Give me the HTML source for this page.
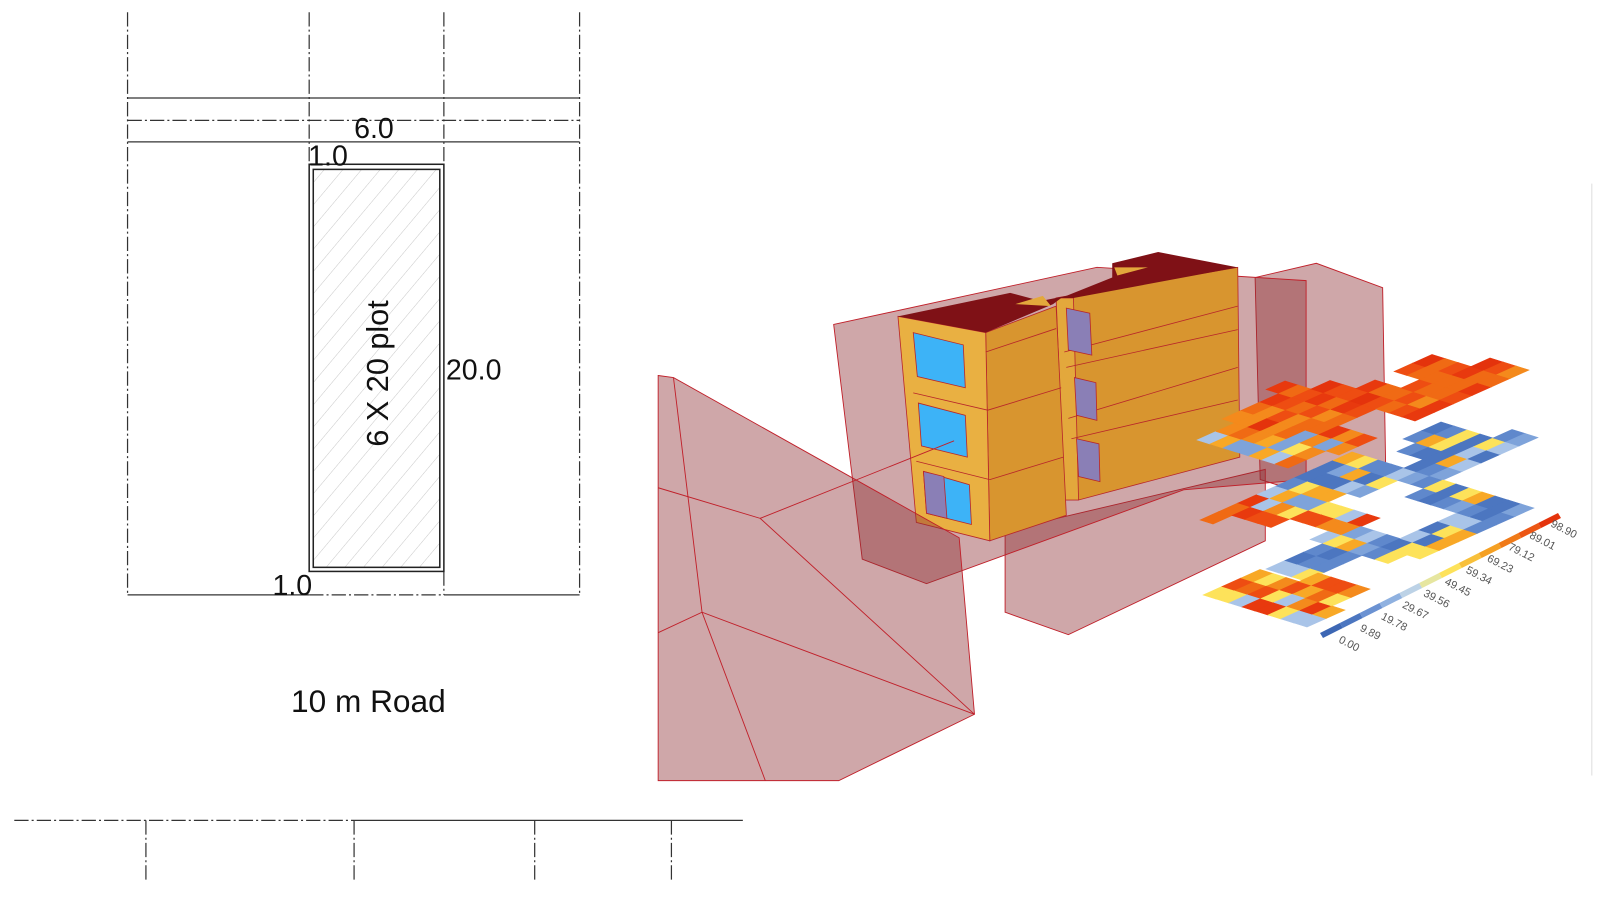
<!DOCTYPE html>
<html><head><meta charset="utf-8"><style>
html,body{margin:0;padding:0;background:#fff;}
svg{display:block;}
text{font-family:"Liberation Sans",Arial,sans-serif;}
</style></head><body>
<svg id="s" width="1600" height="901" viewBox="0 0 1600 901" xmlns="http://www.w3.org/2000/svg">
<defs>
<pattern id="hatch" width="14" height="14" patternUnits="userSpaceOnUse" patternTransform="rotate(40)">
<line x1="0" y1="0" x2="0" y2="14" stroke="#c8c8c8" stroke-width="1"/>
</pattern>
</defs>
<rect width="1600" height="901" fill="#fff"/>
<g transform="scale(1.0204)">
<g stroke="#333" stroke-width="1.2" fill="none">
<g stroke-dasharray="14,3,2,3">
<line x1="125" y1="12" x2="125" y2="583"/>
<line x1="303" y1="12" x2="303" y2="161"/>
<line x1="435" y1="12" x2="435" y2="161"/>
<line x1="568" y1="12" x2="568" y2="583"/>
<line x1="125" y1="118" x2="568" y2="118"/>
<line x1="303" y1="583" x2="435" y2="583"/>
<line x1="435" y1="560" x2="435" y2="583"/>
</g>
<line x1="125" y1="96" x2="568" y2="96"/>
<line x1="125" y1="139" x2="568" y2="139"/>
<line x1="125" y1="583" x2="303" y2="583"/>
<line x1="435" y1="583" x2="568" y2="583"/>
<rect x="303" y="161" width="132" height="399" stroke="#222" stroke-width="1.5"/>
<rect x="307" y="166" width="124" height="390" fill="url(#hatch)" stroke="#222" stroke-width="1.5"/>
</g>
<g fill="#111">
<text x="347" y="135" font-size="28">6.0</text>
<text x="302" y="162" font-size="28">1.0</text>
<text x="437" y="372" font-size="28">20.0</text>
<text x="267" y="583" font-size="28">1.0</text>
<text x="0" y="0" font-size="30" transform="translate(380,366) rotate(-90)" text-anchor="middle">6 X 20 plot</text>
<text x="361" y="698" font-size="31" text-anchor="middle">10 m Road</text>
</g>
<g stroke="#333" stroke-width="1.2" fill="none">
<line x1="14" y1="804" x2="347" y2="804" stroke-dasharray="14,3,2,3"/>
<line x1="347" y1="804" x2="728" y2="804"/>
<g stroke-dasharray="14,3,2,3">
<line x1="143" y1="804" x2="143" y2="865"/>
<line x1="347" y1="804" x2="347" y2="865"/>
<line x1="524" y1="804" x2="524" y2="865"/>
<line x1="658" y1="804" x2="658" y2="865"/>
</g>
</g>
<line x1="1560" y1="180" x2="1560" y2="760" stroke="#ddd" stroke-width="1"/>
<g fill="rgba(140,45,50,0.42)" stroke="#c0202a" stroke-width="0.9">
<polygon points="1230,272 1290,258 1355,282 1358,460 1300,490 1235,470"/>
<polygon points="985,600 1047,622 1240,530 1240,460 985,520"/>
<polygon points="817,318 1075,262 1280,275 1280,470 1160,480 908,572 845,548"/>
</g>
<g stroke="#b8262a" stroke-width="0.8">
<polygon points="1035,292 1213,262 1215,448 1057,490 1043,490" fill="#d8952f"/>
<polygon points="1035,292 1052,292 1057,490 1043,490" fill="#e3a83c"/>
<polygon points="966,326 1035,300 1045,505 970,530" fill="#d8952f"/>
<polygon points="880,310 966,326 970,530 898,512" fill="#e9b042"/>
<polygon points="880,310 990,287 1020,295 1045,290 1090,272 1090,258 1135,247 1213,262 1052,292 1040,292 1032,298 966,326" fill="#7f1116" stroke="none"/>
<polygon points="995,298 1022,290 1030,300" fill="#e3a83c" stroke="none"/>
<polygon points="1092,262 1125,262 1095,270" fill="#e3a83c" stroke="none"/>
<g fill="none">
<line x1="1043" y1="345" x2="1213" y2="300"/><line x1="1045" y1="360" x2="1213" y2="323"/>
<line x1="1047" y1="410" x2="1213" y2="360"/><line x1="1050" y1="430" x2="1213" y2="392"/>
<line x1="895" y1="385" x2="968" y2="402"/><line x1="968" y1="402" x2="1040" y2="380"/>
<line x1="898" y1="452" x2="970" y2="470"/><line x1="970" y1="470" x2="1042" y2="448"/>
<line x1="966" y1="345" x2="1035" y2="322"/>
</g>
<g fill="#3db3f7">
<polygon points="895,326 944,338 946,380 899,369"/>
<polygon points="900,395 946,407 948,448 903,437"/>
<polygon points="905,462 950,475 952,514 908,503"/>
</g>
<g fill="#8a7fb6">
<polygon points="905,462 925,467 928,508 908,503"/>
<polygon points="1045,302 1068,307 1070,348 1047,343"/>
<polygon points="1053,370 1074,375 1075,412 1055,407"/>
<polygon points="1055,430 1077,435 1078,472 1057,467"/>
</g>
</g>
<g fill="rgba(140,45,50,0.42)" stroke="#c0202a" stroke-width="0.9">
<polygon points="645,368 660,370 940,527 955,700 822,765 645,765"/>
<polyline points="645,478 745,508 955,700" fill="none"/>
<polyline points="745,508 935,432" fill="none"/>
<polyline points="660,370 688,600 750,765" fill="none"/>
<polyline points="645,620 688,600 955,700" fill="none"/>
</g>
</g>
<g id="heat"></g>
<g id="legend"></g>
</svg>
<script>
(function(){
var NS="http://www.w3.org/2000/svg";
var heat=document.getElementById("heat");
var seed=11;function r(){seed=(seed*16807)%2147483647;return (seed-1)/2147483646;}
function Z(p){return p.map(function(q){return [1160+q[0]/3,340+q[1]/3];});}
function inside(pt,poly){var x=pt[0],y=pt[1],c=false;for(var i=0,j=poly.length-1;i<poly.length;j=i++){var xi=poly[i][0],yi=poly[i][1],xj=poly[j][0],yj=poly[j][1];if(((yi>y)!=(yj>y))&&(x<(xj-xi)*(y-yi)/(yj-yi)+xi))c=!c;}return c;}
var a=[13,4],b=[19,-8.5];
var hot=["#e8390e","#ee4d12","#f06a14","#f48a1c","#e4330c","#ee4d12","#f06a14"];
var mixL=["#f8a826","#fde25a","#a9c4e8","#f48a1c","#7ea3da","#f06a14"];
var cold=["#4c76c0","#5f88cc","#7ea3da","#a9c4e8","#4c76c0","#5f88cc","#fde25a","#f8a826"];
function layer(ox,oy,poly,holes,pal){
 for(var i=-20;i<60;i++)for(var j=-40;j<60;j++){
  var p0=[ox+i*a[0]+j*b[0],oy+i*a[1]+j*b[1]];
  var c=[p0[0]+(a[0]+b[0])/2,p0[1]+(a[1]+b[1])/2];
  if(!inside(c,poly))continue;
  var skip=false;holes.forEach(function(h){if(inside(c,h))skip=true;});if(skip)continue;
  var pts=[p0,[p0[0]+b[0],p0[1]+b[1]],[p0[0]+a[0]+b[0],p0[1]+a[1]+b[1]],[p0[0]+a[0],p0[1]+a[1]]];
  var pg=document.createElementNS(NS,"polygon");
  pg.setAttribute("points",pts.map(function(p){return p[0].toFixed(1)+","+p[1].toFixed(1)}).join(" "));
  var pl=pal(c[0],c[1]);
  var f=pl[Math.floor(r()*pl.length)];
  pg.setAttribute("fill",f);pg.setAttribute("stroke",f);pg.setAttribute("stroke-width","0.6");
  heat.appendChild(pg);
 }
}
var top=Z([[110,305],[370,135],[560,130],[770,150],[710,90],[820,40],[1125,95],[770,250],[640,220],[490,265],[620,300],[390,385]]);
layer(1197,440,top,[],function(x,y){ return (y> 340+280/3 && x<1160+560/3)?mixL:hot;});
var mid=Z([[120,540],[300,455],[560,345],[760,385],[720,300],[840,245],[1125,300],[860,430],[1120,500],[780,665],[600,650],[500,710],[300,690],[560,560]]);
var hole=Z([[530,480],[720,425],[880,540],[700,600]]);
var lowlobe=Z([[120,540],[300,470],[620,540],[400,630]]);
layer(1200,520,mid,[hole],function(x,y){return inside([x,y],lowlobe)?["#e8390e","#ee4d12","#f06a14","#f48a1c","#fde25a","#a9c4e8"]:cold;});
var bot=Z([[130,765],[300,700],[420,705],[620,760],[420,865]]);
layer(1203,595,bot,[],function(){return ["#e8390e","#f06a14","#f48a1c","#fde25a","#a9c4e8","#f8a826","#ee4d12"];});
var lg=document.getElementById("legend");
var cols=["#3d67b4","#4c76c0","#6b92d2","#8fb1e0","#bcd2e6","#e6e6a0","#fde25a","#f8c03a","#f5a023","#f07a18","#ec5614","#e4330c"];
var x0=1320,y0=633,x1=1558,y1=513,n=cols.length;
for(var k=0;k<n;k++){
 var t0=k/n,t1=(k+1)/n;
 var ax=x0+(x1-x0)*t0,ay=y0+(y1-y0)*t0,bx=x0+(x1-x0)*t1,by=y0+(y1-y0)*t1;
 var pg=document.createElementNS(NS,"polygon");
 pg.setAttribute("points",[ax,ay,bx,by,bx+3,by+5,ax+3,ay+5].join(","));
 pg.setAttribute("fill",cols[k]);lg.appendChild(pg);
}
var labels=["0.00","9.89","19.78","29.67","39.56","49.45","59.34","69.23","79.12","89.01","98.90"];
for(var k=0;k<labels.length;k++){
 var t=k/10;var x=1338+(1550-1338)*t,y=642+(526-642)*t;
 var tx=document.createElementNS(NS,"text");
 tx.setAttribute("transform","translate("+x+","+y+") rotate(27)");
 tx.setAttribute("font-size","11");tx.setAttribute("fill","#555");
 tx.textContent=labels[k];lg.appendChild(tx);
}
})();
</script>
</body></html>
